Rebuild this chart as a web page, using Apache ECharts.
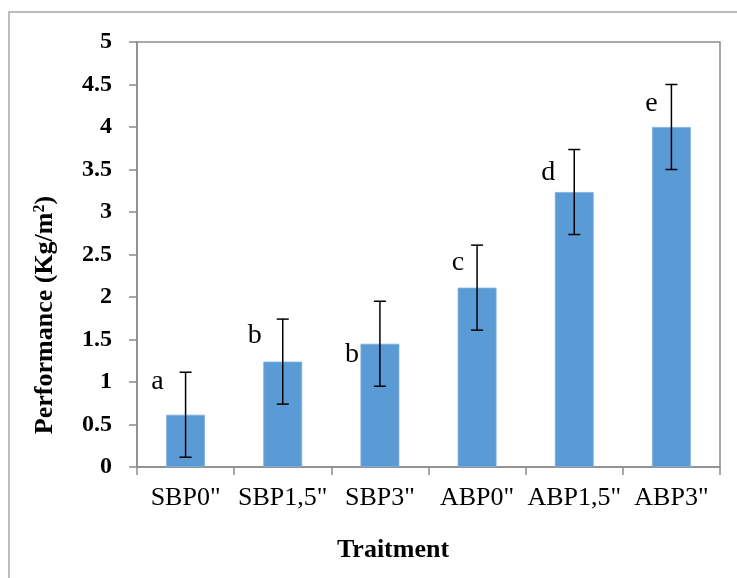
<!DOCTYPE html>
<html>
<head>
<meta charset="utf-8">
<script src="https://cdn.jsdelivr.net/npm/echarts@6/dist/echarts.min.js"></script>
<style>
html,body{margin:0;padding:0;background:#fff;}
#chart{width:737px;height:578px;}
</style>
</head>
<body>
<div id="chart"></div>
<script>
const categories = ['SBP0"', 'SBP1,5"', 'SBP3"', 'ABP0"', 'ABP1,5"', 'ABP3"'];
const performance = [0.615, 1.24, 1.45, 2.11, 3.235, 4.0];
const errors = [0.5, 0.5, 0.5, 0.5, 0.5, 0.5];
const letters = ['a', 'b', 'b', 'c', 'd', 'e'];
const letterY = [1.0, 1.55, 1.32, 2.41, 3.46, 4.28];
const yTicks = { min: 0, max: 5, interval: 0.5 };

// layout only: horizontal pixel shift of each letter from its bar centre
const letterShift = [-28, -28, -28, -19, -26, -20];

const chart = echarts.init(document.getElementById('chart'));
const serif = '"Liberation Serif", "Times New Roman", serif';
const axisGray = '#8c8c8c';

chart.setOption({
  animation: false,
  backgroundColor: '#ffffff',
  graphic: [
    {
      type: 'rect',
      shape: { x: 9, y: 12, width: 800, height: 800 },
      style: { fill: 'none', stroke: '#a6a6a6', lineWidth: 1.5 },
      silent: true
    },
    {
      type: 'text',
      x: 393, y: 550,
      style: {
        text: 'Traitment', fill: '#000',
        font: 'bold 26px ' + serif,
        align: 'center', verticalAlign: 'middle'
      }
    },
    {
      type: 'text',
      x: 45, y: 315,
      rotation: Math.PI / 2,
      style: {
        text: '{t|Performance (Kg/m}{s|2}{t|)}',
        align: 'center', verticalAlign: 'middle',
        rich: {
          t: { fill: '#000', fontFamily: serif, fontSize: 26, fontWeight: 'bold' },
          s: { fill: '#000', fontFamily: serif, fontSize: 16, fontWeight: 'bold', verticalAlign: 'top', padding: [0, 0, 10, 0] }
        }
      }
    }
  ],
  grid: {
    left: 137, right: 17, top: 42, bottom: 111,
    show: true, borderColor: axisGray, borderWidth: 1.5, backgroundColor: 'transparent'
  },
  xAxis: {
    type: 'category',
    data: categories,
    boundaryGap: true,
    axisLine: { lineStyle: { color: axisGray, width: 1.5 } },
    axisTick: { show: true, length: 8, lineStyle: { color: axisGray, width: 1.5 } },
    axisLabel: { color: '#000', fontFamily: serif, fontSize: 26, margin: 18, interval: 0 }
  },
  yAxis: {
    type: 'value',
    min: yTicks.min, max: yTicks.max, interval: yTicks.interval,
    splitLine: { show: false },
    axisLine: { show: true, lineStyle: { color: axisGray, width: 1.5 } },
    axisTick: { show: true, length: 8, lineStyle: { color: axisGray, width: 1.5 } },
    axisLabel: { color: '#000', fontFamily: serif, fontSize: 24, fontWeight: 'bold', margin: 25 }
  },
  series: [
    {
      type: 'bar',
      data: performance,
      barWidth: '40%',
      itemStyle: { color: '#5B9BD5', borderColor: '#7fb0df', borderWidth: 0.8 },
      z: 2
    },
    {
      type: 'custom',
      data: performance.map((v, i) => [i, v, errors[i]]),
      z: 5,
      renderItem: function (params, api) {
        const i = api.value(0), v = api.value(1), e = api.value(2);
        const top = api.coord([i, v + e]);
        const bot = api.coord([i, v - e]);
        const cap = 6;
        const st = { stroke: '#000', lineWidth: 1.5 };
        return {
          type: 'group',
          children: [
            { type: 'line', shape: { x1: top[0], y1: top[1], x2: bot[0], y2: bot[1] }, style: st },
            { type: 'line', shape: { x1: top[0] - cap, y1: top[1], x2: top[0] + cap, y2: top[1] }, style: st },
            { type: 'line', shape: { x1: bot[0] - cap, y1: bot[1], x2: bot[0] + cap, y2: bot[1] }, style: st }
          ]
        };
      }
    },
    {
      type: 'custom',
      data: letterY.map((v, i) => [i, v]),
      z: 6,
      renderItem: function (params, api) {
        const i = api.value(0), v = api.value(1);
        const p = api.coord([i, v]);
        return {
          type: 'text',
          x: p[0] + letterShift[params.dataIndex],
          y: p[1],
          style: {
            text: letters[params.dataIndex],
            fill: '#000',
            font: '28px ' + serif,
            align: 'center',
            verticalAlign: 'middle'
          }
        };
      }
    }
  ]
});
</script>
</body>
</html>
